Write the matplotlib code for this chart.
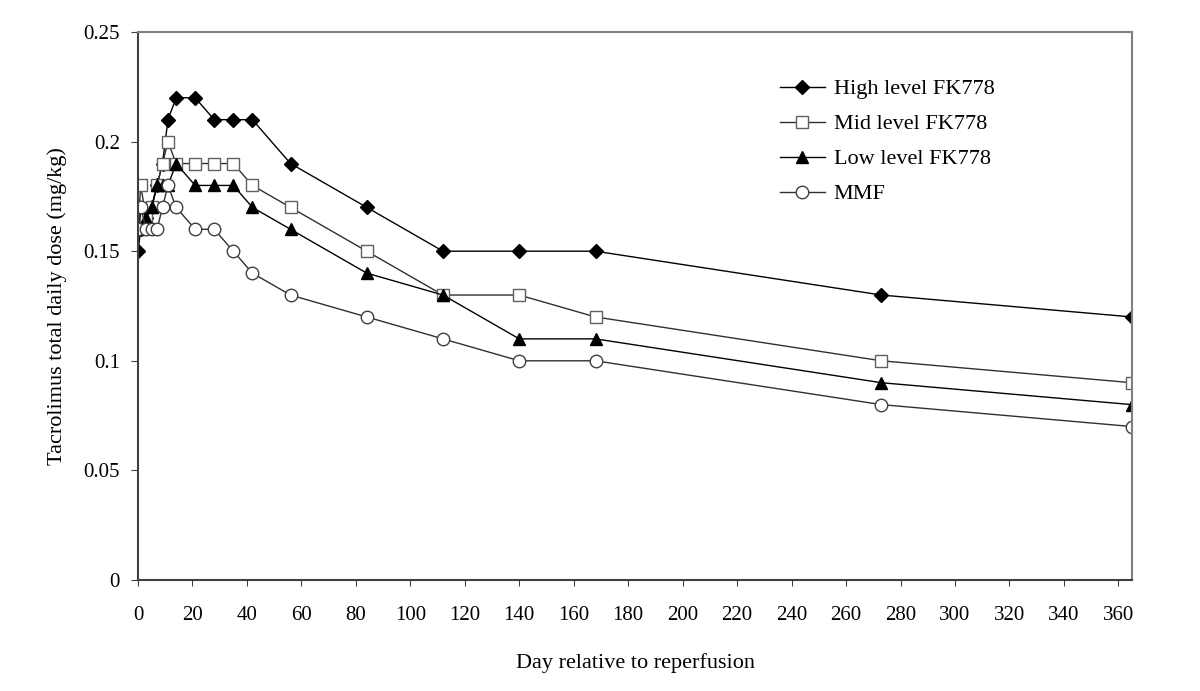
import numpy as np
import matplotlib
matplotlib.use("Agg")
import matplotlib.pyplot as plt

plt.rcParams['font.family'] = ['Liberation Serif', 'DejaVu Serif']

# days after reperfusion
days = [0, 1, 3, 5, 7, 9, 11, 14, 21, 28, 35, 42, 56, 84, 112, 140, 168, 273, 365]

high = [0.15, 0.16, 0.165, 0.17, 0.18, 0.19, 0.21, 0.22, 0.22, 0.21, 0.21, 0.21,
        0.19, 0.17, 0.15, 0.15, 0.15, 0.13, 0.12]
mid = [0.16, 0.18, 0.165, 0.17, 0.18, 0.19, 0.20, 0.19, 0.19, 0.19, 0.19, 0.18,
       0.17, 0.15, 0.13, 0.13, 0.12, 0.10, 0.09]
low = [0.16, 0.17, 0.165, 0.17, 0.18, 0.18, 0.18, 0.19, 0.18, 0.18, 0.18, 0.17,
       0.16, 0.14, 0.13, 0.11, 0.11, 0.09, 0.08]
mmf = [0.16, 0.17, 0.16, 0.16, 0.16, 0.17, 0.18, 0.17, 0.16, 0.16, 0.15, 0.14,
       0.13, 0.12, 0.11, 0.10, 0.10, 0.08, 0.07]

labels = ['High level FK778', 'Mid level FK778', 'Low level FK778', 'MMF']

fig = plt.figure(figsize=(12, 6.91), dpi=100)
ax = fig.add_axes([138/1200, 111/691, 994/1200, 548/691])

ax.plot(days, high, color='black', lw=1, marker='D', ms=7,
        mfc='black', mec='black', label=labels[0])
ax.plot(days, mid, color='#303030', lw=1, marker='s', ms=9,
        mfc='white', mec='#606060', label=labels[1])
ax.plot(days, low, color='black', lw=1, marker='^', ms=9,
        mfc='black', mec='black', label=labels[2])
ax.plot(days, mmf, color='#303030', lw=1, marker='o', ms=9,
        mfc='white', mec='#404040', label=labels[3])

ax.set_xlim(0, 365)
ax.set_ylim(0, 0.25)
ax.set_xticks(np.arange(0, 361, 20))
ax.set_yticks([0, 0.05, 0.1, 0.15, 0.2, 0.25])
ax.set_yticklabels(['0', '0.05', '0.1', '0.15', '0.2', '0.25'])
ax.tick_params(axis='x', direction='out', length=4, pad=15, labelsize=15, color='#404040')
ax.tick_params(axis='y', direction='out', length=5, pad=8, labelsize=15, color='#404040')

for s in ['left', 'bottom']:
    ax.spines[s].set_color('#404040')
    ax.spines[s].set_linewidth(1.5)
for s in ['top', 'right']:
    ax.spines[s].set_color('#808080')
    ax.spines[s].set_linewidth(1.5)

ax.set_xlabel('Day relative to reperfusion', fontsize=16, labelpad=20)
ax.set_ylabel('Tacrolimus total daily dose (mg/kg)', fontsize=16, labelpad=12)

ax.legend(loc='upper left', bbox_to_anchor=(0.626, 0.951), frameon=False,
          fontsize=16, labelspacing=0.65, handlelength=2.0, handletextpad=0.4)

fig.savefig('out.png', dpi=100)
